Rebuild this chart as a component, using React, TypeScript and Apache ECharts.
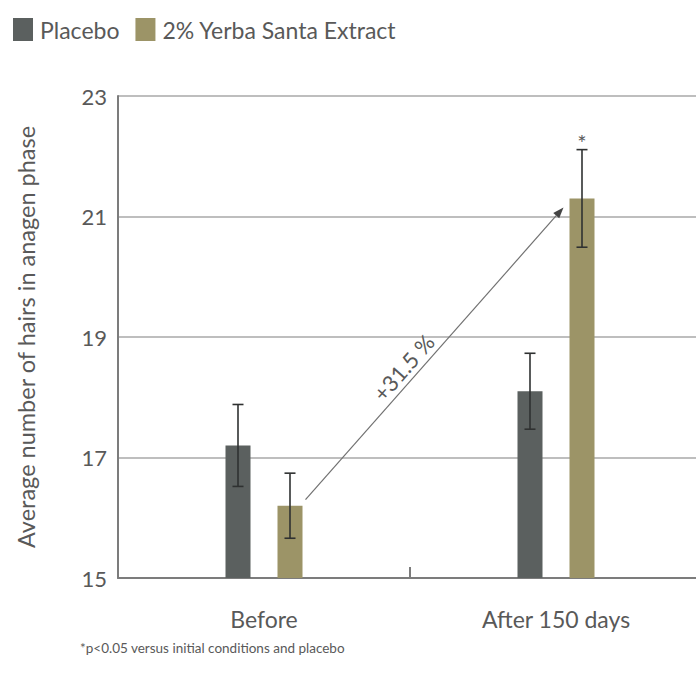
import React, { useEffect, useRef } from "react";
import * as echarts from "echarts";

const categories = ["Before", "After 150 days"];
const placebo = [17.2, 18.1];
const placeboErr = [0.68, 0.63];
const yerba = [16.2, 21.3];
const yerbaErr = [0.54, 0.81];
const yerbaSignificant = [false, true];
const yTicks = { min: 15, max: 23, interval: 2 };
const changeLabel = "+31.5 %";
const arrowFrom = 16.3; // arrow starts just above the Before extract bar
const arrowTo = 21.15; // and points at the top of the After extract bar
const footnote = "*p<0.05 versus initial conditions and placebo";

const FONT = "Lato, 'Open Sans', sans-serif";
const TEXT = "#595959";
const PLACEBO_COLOR = "#5b605f";
const YERBA_COLOR = "#9c9467";
const BAR_W = 25;
const BAR_GAP = 27;
const OFFSET = (BAR_W + BAR_GAP) / 2;

function errorSeries(name: string, values: number[], errs: number[], dx: number, marks?: boolean[]) {
  return {
    name: name + " error",
    type: "custom",
    silent: true,
    z: 5,
    data: values.map((v, i) => [i, v - errs[i], v + errs[i]]),
    renderItem: (params: any, api: any) => {
      const idx = api.value(0);
      const lo = api.coord([idx, api.value(1)]);
      const hi = api.coord([idx, api.value(2)]);
      const x = lo[0] + dx;
      const cap = 5.5;
      const style = { stroke: "#2f3131", lineWidth: 1.6 };
      const children: any[] = [
        { type: "line", shape: { x1: x, y1: hi[1], x2: x, y2: lo[1] }, style },
        { type: "line", shape: { x1: x - cap, y1: hi[1], x2: x + cap, y2: hi[1] }, style },
        { type: "line", shape: { x1: x - cap, y1: lo[1], x2: x + cap, y2: lo[1] }, style },
      ];
      if (marks && marks[params.dataIndex]) {
        children.push({
          type: "text",
          style: {
            x,
            y: hi[1] - 7,
            text: "*",
            fill: TEXT,
            font: `22px ${FONT}`,
            align: "center",
            verticalAlign: "middle",
          },
        });
      }
      return { type: "group", children };
    },
  };
}

export default function App() {
  const ref = useRef<HTMLDivElement>(null);
  useEffect(() => {
    if (!ref.current) return;
    const chart = echarts.init(ref.current, undefined, { renderer: "svg" });
    chart.setOption({
      animation: false,
      backgroundColor: "#ffffff",
      textStyle: { fontFamily: FONT },
      legend: {
        left: 8,
        top: 13,
        itemWidth: 20,
        itemHeight: 23,
        itemGap: 16,
        icon: "rect",
        data: ["Placebo", "2% Yerba Santa Extract"],
        textStyle: { color: TEXT, fontSize: 23, fontFamily: FONT, padding: [0, 0, 0, 2] },
      },
      grid: { left: 118, top: 96, width: 584, height: 482, outerBoundsMode: "none", containLabel: false },
      xAxis: {
        type: "category",
        data: categories,
        axisLine: { lineStyle: { color: "#7c7c7c", width: 2 } },
        axisTick: { show: true, inside: true, length: 11, lineStyle: { color: "#7c7c7c", width: 2 } },
        axisLabel: { color: TEXT, fontSize: 23, margin: 29, fontFamily: FONT },
      },
      yAxis: {
        type: "value",
        min: yTicks.min,
        max: yTicks.max,
        interval: yTicks.interval,
        name: "Average number of hairs in anagen phase",
        nameLocation: "middle",
        nameGap: 80,
        nameTextStyle: { color: TEXT, fontSize: 23.5, fontFamily: FONT },
        axisLine: { show: true, lineStyle: { color: "#7c7c7c", width: 2 } },
        axisTick: { show: false },
        axisLabel: { color: TEXT, fontSize: 22, margin: 11, fontFamily: FONT },
        splitLine: { lineStyle: { color: "#a8a8a8", width: 1.5 } },
      },
      series: [
        {
          name: "Placebo",
          type: "bar",
          data: placebo,
          barWidth: BAR_W,
          barGap: `${(BAR_GAP / BAR_W) * 100}%`,
          itemStyle: { color: PLACEBO_COLOR },
        },
        {
          name: "2% Yerba Santa Extract",
          type: "bar",
          data: yerba,
          barWidth: BAR_W,
          barGap: `${(BAR_GAP / BAR_W) * 100}%`,
          itemStyle: { color: YERBA_COLOR },
        },
        errorSeries("Placebo", placebo, placeboErr, -OFFSET),
        errorSeries("2% Yerba Santa Extract", yerba, yerbaErr, OFFSET, yerbaSignificant),
      ],
    });

    // Arrow annotating the change of the extract group, plus the footnote
    const p0 = chart.convertToPixel({ gridIndex: 0 }, [0, arrowFrom]);
    const p1 = chart.convertToPixel({ gridIndex: 0 }, [1, arrowTo]);
    const x0 = p0[0] + OFFSET + BAR_W / 2 + 3;
    const y0 = p0[1];
    const x1 = p1[0] + OFFSET - BAR_W / 2 - 6;
    const y1 = p1[1];
    const ang = Math.atan2(y0 - y1, x1 - x0);
    const ux = Math.cos(ang);
    const uy = -Math.sin(ang);
    const headL = 11;
    const headW = 4;
    const bx = x1 - ux * headL;
    const by = y1 - uy * headL;
    const nx = -uy;
    const ny = ux;
    const mx = (x0 + x1) / 2;
    const my = (y0 + y1) / 2;
    // label sits a little before the midpoint, just above the line
    const along = -31;
    const perp = 14;
    const tx = mx + ux * along - Math.sin(ang) * perp;
    const ty = my + uy * along - Math.cos(ang) * perp;
    chart.setOption({
      graphic: [
        {
          type: "line",
          shape: { x1: x0, y1: y0, x2: bx, y2: by },
          style: { stroke: "#707070", lineWidth: 1.2 },
          silent: true,
        },
        {
          type: "polygon",
          shape: {
            points: [
              [x1, y1],
              [bx + nx * headW, by + ny * headW],
              [bx - nx * headW, by - ny * headW],
            ],
          },
          style: { fill: "#444" },
          silent: true,
        },
        {
          type: "text",
          x: tx,
          y: ty,
          rotation: ang,
          style: {
            text: changeLabel,
            fill: TEXT,
            font: `22px ${FONT}`,
            align: "center",
            verticalAlign: "middle",
          },
          silent: true,
        },
        {
          type: "text",
          left: 80,
          top: 641,
          style: { text: footnote, fill: TEXT, font: `13.5px ${FONT}` },
          silent: true,
        },
      ],
    });
    return () => chart.dispose();
  }, []);
  // The plot runs past the right edge, so the chart is wider than its frame
  return (
    <div
      style={{
        position: "absolute",
        left: 0,
        top: 0,
        width: 696,
        height: 679,
        overflow: "hidden",
        background: "#fff",
      }}
    >
      <div ref={ref} style={{ width: 712, height: 679 }} />
    </div>
  );
}
